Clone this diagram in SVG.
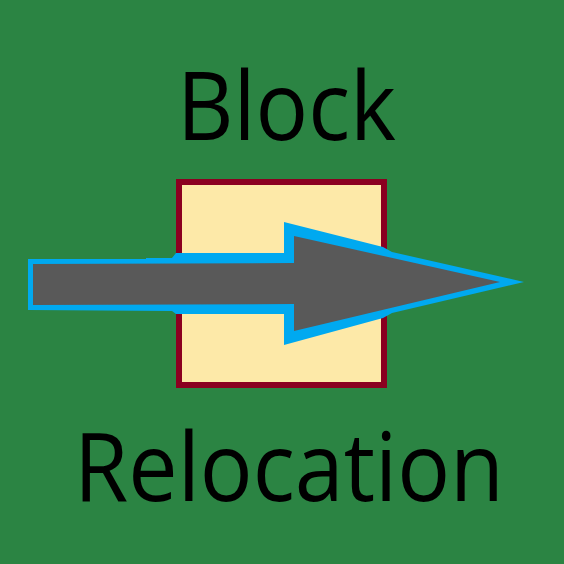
<svg xmlns="http://www.w3.org/2000/svg" width="564" height="564" viewBox="0 0 564 564">
<style>
.t{font-family:"Open Sans","Liberation Sans",sans-serif;font-size:95px;fill:#000}
</style>
<rect id="background" x="0" y="0" width="564" height="564" fill="#2b8443"/>
<g id="block">
<rect x="179" y="182" width="205" height="203" fill="#fde9a8" stroke="#8b0020" stroke-width="6"/>
</g>
<g id="arrow">
<polygon points="28,259 146,259 146,258 172,258 176,253 284,253 284,222 383,247 392,252 524,282 392,313 383,318 284,345 284,314 176,314 172,311 28,310" fill="#00a9f0"/>
<polygon points="33,264 294,263 294,236 500,282 294,331 294,304 33,305" fill="#595959"/>
</g>
<g id="labels">
<text class="t" x="177" y="140" textLength="219" lengthAdjust="spacingAndGlyphs">Block</text>
<text class="t" x="74" y="501" textLength="430" lengthAdjust="spacingAndGlyphs">Relocation</text>
</g>
</svg>
